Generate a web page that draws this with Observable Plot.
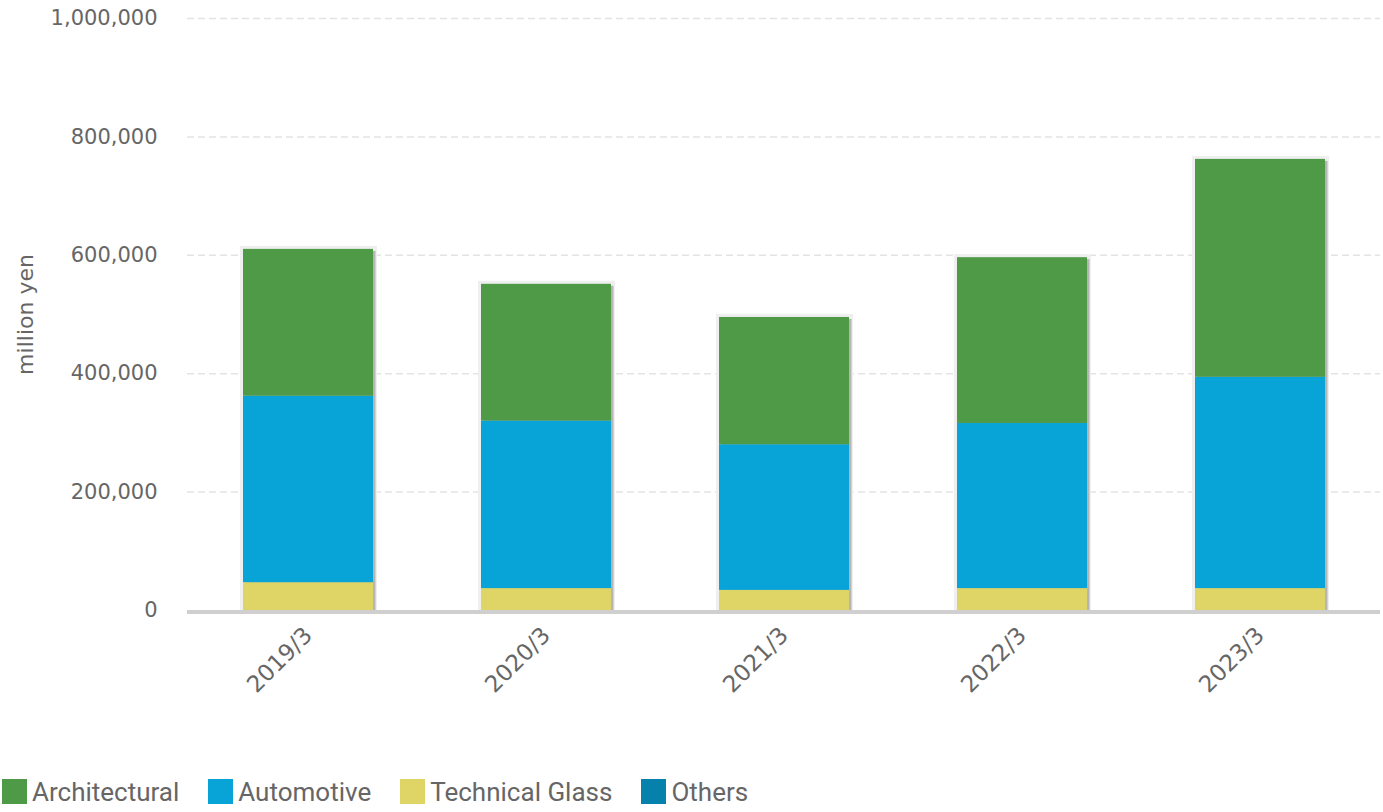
<!DOCTYPE html>
<html>
<head>
<meta charset="utf-8">
<script src="https://cdn.jsdelivr.net/npm/d3@7"></script>
<script src="https://cdn.jsdelivr.net/npm/@observablehq/plot@0.6"></script>
<style>
  html, body { margin: 0; padding: 0; background: #fff; overflow: hidden; }
  #chart svg { display: block; }
  #legend { display: flex; align-items: flex-end; height: 32px; margin-top: 5px; font-family: Roboto, "Liberation Sans", sans-serif; font-size: 26px; line-height: 30px; color: #666; padding-left: 2px; }
  .item { display: flex; align-items: flex-end; margin-right: 29px; }
  .sw { width: 25px; height: 25px; margin-right: 5px; margin-bottom: 3px; }
</style>
</head>
<body>
<div id="chart"></div>
<div id="legend"></div>
<script>
const years = ["2019/3", "2020/3", "2021/3", "2022/3", "2023/3"];
const segments = ["Others", "Technical Glass", "Automotive", "Architectural"];
const legendOrder = ["Architectural", "Automotive", "Technical Glass", "Others"];
const colors = {"Architectural": "#4f9a47", "Automotive": "#08a4d7", "Technical Glass": "#ded566", "Others": "#0681ab"};
const architectural = [248000, 231000, 215000, 280000, 368000];
const automotive = [315000, 283000, 246000, 279000, 357000];
const technicalGlass = [47000, 37000, 34000, 37000, 37000];
const others = [0, 0, 0, 0, 0];
const yTicks = [0, 200000, 400000, 600000, 800000, 1000000];

const series = {"Others": others, "Technical Glass": technicalGlass, "Automotive": automotive, "Architectural": architectural};
const rows = [];
for (const s of segments) years.forEach((y, i) => rows.push({year: y, segment: s, value: series[s][i]}));
const totals = years.map((y, i) => ({year: y, total: segments.reduce((a, s) => a + series[s][i], 0)}));

const fmt = d3.format(",");
const FONT = "'DejaVu Sans', sans-serif";
const chart = Plot.plot({
  width: 1383,
  height: 770,
  marginLeft: 187,
  marginRight: 3,
  marginTop: 18,
  marginBottom: 160,
  style: {fontFamily: FONT, fontSize: "21px", color: "#666", background: "#fff"},
  x: {domain: years, paddingInner: 0.455, paddingOuter: 0.2275, label: null},
  y: {domain: [0, 1000000], label: null},
  color: {domain: legendOrder, range: legendOrder.map(d => colors[d])},
  marks: [
    Plot.ruleY(yTicks.filter(d => d > 0), {stroke: "#e3e3e3", strokeWidth: 1.5, strokeDasharray: "7,4"}),
    Plot.axisY({ticks: yTicks, tickFormat: fmt, tickSize: 0, tickPadding: 30, fill: "#666", fontSize: 21, fontFamily: FONT, label: null}),
    Plot.axisX({tickSize: 0, tickPadding: 21, tickRotate: -45, fill: "#666", fontSize: 23, fontFamily: FONT, label: null}),
    Plot.text(["million yen"], {frameAnchor: "left", dx: -162, rotate: -90, textAnchor: "middle", fill: "#666", fontSize: 22, fontFamily: FONT}),
    Plot.barY(totals, {x: "year", y: "total", fill: "#efefef", insetLeft: -3, insetRight: -4, insetTop: -3}),
    Plot.barY(totals, {x: "year", y: "total", fill: "#b5b5b5", dx: 2.5, dy: 2}),
    Plot.barY(rows, {x: "year", y: "value", fill: "segment", z: "segment", order: segments}),
    Plot.ruleY([0], {stroke: "#cfcfcf", strokeWidth: 4, dy: 1.5})
  ]
});
document.getElementById("chart").appendChild(chart);

const legend = document.getElementById("legend");
for (const s of legendOrder) {
  const it = document.createElement("div");
  it.className = "item";
  const sw = document.createElement("div");
  sw.className = "sw";
  sw.style.background = colors[s];
  const t = document.createElement("span");
  t.textContent = s;
  it.appendChild(sw); it.appendChild(t);
  legend.appendChild(it);
}
</script>
</body>
</html>
